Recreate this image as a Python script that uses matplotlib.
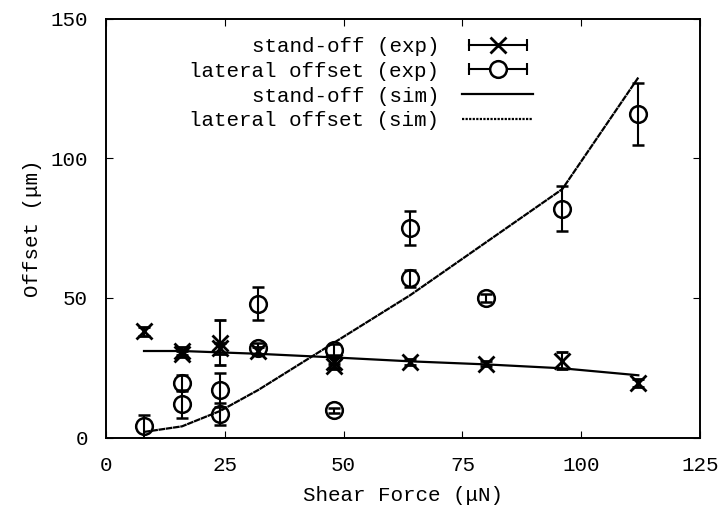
import numpy as np
import matplotlib
matplotlib.use('Agg')
from matplotlib import pyplot as plt
from matplotlib.lines import Line2D
from matplotlib.legend_handler import HandlerLine2D, HandlerTuple

plt.rcParams['font.family'] = ['Liberation Mono', 'DejaVu Sans Mono']

# stand-off, experiment
so_x = [8, 16, 16, 24, 24, 32, 48, 48, 64, 80, 96, 112]
so_y = [38, 31, 30, 34, 32, 31, 27, 25.5, 27, 26.5, 27.5, 19.5]
so_err = [1.5, 1.5, 1, 8, 2, 1.5, 2, 1, 1, 1, 3, 1.5]

# lateral offset, experiment
lo_x = [8, 16, 16, 24, 24, 32, 32, 48, 48, 64, 64, 80, 96, 112]
lo_y = [4, 12, 19.5, 17, 8.5, 48, 32, 31.5, 9.7, 57, 75, 50, 82, 116]
lo_err = [4, 5, 3, 6, 4, 6, 2, 2, 1, 3, 6, 1.5, 8, 11]

# simulation
sim_x = [8, 16, 24, 32, 48, 64, 80, 96, 112]
sim_so = [31, 31, 30.5, 30, 28.7, 27.3, 26.2, 24.8, 22.3]
sim_lo = [2, 4, 9.5, 17, 34, 51, 70, 89, 129]

fig = plt.figure(figsize=(7.21, 5.18), dpi=100)
ax = fig.add_axes([0.147, 0.1554, 0.824, 0.808])

ax.errorbar(so_x, so_y, yerr=so_err, fmt='x', color='black', ms=11, mew=2,
            elinewidth=1.5, capsize=4, capthick=1.5)
ax.errorbar(lo_x, lo_y, yerr=lo_err, fmt='o', color='black', mfc='none', ms=12, mew=1.8,
            elinewidth=1.5, capsize=4, capthick=1.5)
l_so, = ax.plot(sim_x, sim_so, '-', color='black', lw=1.6)
l_lo, = ax.plot(sim_x, sim_lo, color='black', lw=1.6, ls=(0, (3, 0.3)))

ax.set_xlim(0, 125)
ax.set_ylim(0, 150)
ax.set_xticks([0, 25, 50, 75, 100, 125])
ax.set_yticks([0, 50, 100, 150])
ax.tick_params(direction='in', top=True, right=True, labelsize=15, length=5, pad=13)
for s in ax.spines.values():
    s.set_linewidth(1.4)
ax.set_xlabel('Shear Force (μN)', fontsize=15, labelpad=8)
ax.set_ylabel('Offset (μm)', fontsize=15, labelpad=6)

# legend handles that look like gnuplot error bars
cap1 = Line2D([], [], color='black', lw=1.5, marker='|', ms=8, mew=1.5)
mk1 = Line2D([], [], color='black', ls='none', marker='x', ms=11, mew=2)
cap2 = Line2D([], [], color='black', lw=1.5, marker='|', ms=8, mew=1.5)
mk2 = Line2D([], [], color='black', ls='none', marker='o', mfc='white', ms=12, mew=1.8)
leg_line = Line2D([], [], color='black', lw=1.6, ls=(0, (1, 0.6)))
handles = [(cap1, mk1), (cap2, mk2), l_so, leg_line]
labels = ['stand-off (exp)', 'lateral offset (exp)', 'stand-off (sim)', 'lateral offset (sim)']
hmap = {cap1: HandlerLine2D(numpoints=2), cap2: HandlerLine2D(numpoints=2),
        tuple: HandlerTuple(ndivide=1, pad=0)}

ax.legend(handles, labels, handler_map=hmap, loc='upper right', bbox_to_anchor=(0.733, 0.977),
          markerfirst=False, frameon=False, fontsize=15, numpoints=1, handlelength=3.4,
          handletextpad=1.1, labelspacing=0.28, borderaxespad=0)

fig.savefig('out.png', dpi=100)
